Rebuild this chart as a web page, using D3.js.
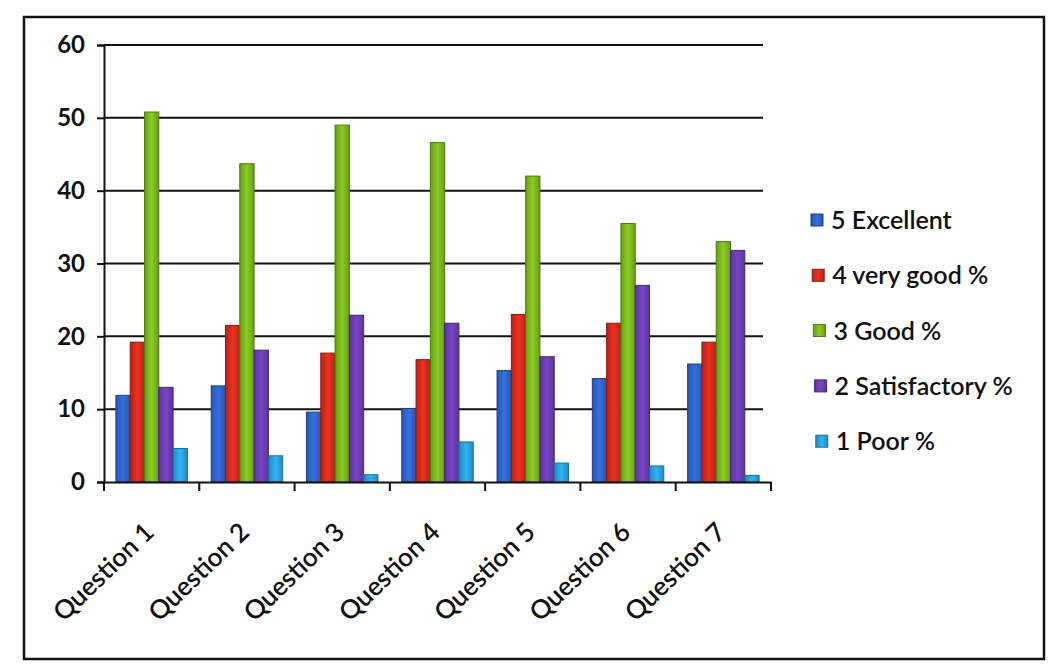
<!DOCTYPE html>
<html><head><meta charset="utf-8">
<script src="https://cdn.jsdelivr.net/npm/d3@7"></script>
<style>
html,body{margin:0;padding:0;background:#fff;}
svg{display:block;font-family:Lato,"Open Sans",sans-serif;}
</style></head>
<body>
<svg id="chart" width="1052" height="664"></svg>
<script>
const categories = ["Question 1","Question 2","Question 3","Question 4","Question 5","Question 6","Question 7"];
const seriesNames = ["5 Excellent","4 very good %","3 Good %","2 Satisfactory %","1 Poor %"];
const excellent    = [11.9, 13.2, 9.6, 10.1, 15.3, 14.2, 16.2];
const veryGood     = [19.2, 21.5, 17.7, 16.8, 23.0, 21.8, 19.2];
const good         = [50.8, 43.7, 49.0, 46.6, 42.0, 35.5, 33.0];
const satisfactory = [13.0, 18.1, 22.9, 21.8, 17.2, 27.0, 31.8];
const poor         = [4.6, 3.6, 1.0, 5.5, 2.6, 2.2, 0.9];
const yTicks = [0,10,20,30,40,50,60];
const colors = ["#2e63c8","#d22a1c","#7ab51d","#6a3db0","#2a9fdc"];
const darks  = ["#1b3f8a","#8e1a10","#4d7a10","#432675","#176f9e"];

(function(){
const allSeries = [excellent, veryGood, good, satisfactory, poor];
const svg = d3.select("#chart");

svg.append("rect").attr("x",24).attr("y",17).attr("width",1020).attr("height",642)
  .attr("fill","none").attr("stroke","#111").attr("stroke-width",2.5);

const mLeft = 104, mRight = 771, mTop = 45, mBottom = 482;
const x0 = d3.scaleBand().domain(categories).range([mLeft, mRight]).paddingInner(0.25).paddingOuter(0.125);
const xTickScale = d3.scaleBand().domain(categories).range([mLeft, mRight]);
const x1 = d3.scaleBand().domain(d3.range(5)).range([0, x0.bandwidth()]);
const y = d3.scaleLinear().domain([0,60]).range([mBottom, mTop]);

const defs = svg.append("defs");
colors.forEach((c,i)=>{
  const g = defs.append("linearGradient").attr("id","g"+i).attr("x1","0").attr("x2","1").attr("y1","0").attr("y2","0");
  g.append("stop").attr("offset","0").attr("stop-color",d3.color(c).darker(0.4));
  g.append("stop").attr("offset","0.5").attr("stop-color",d3.color(c).brighter(0.35));
  g.append("stop").attr("offset","1").attr("stop-color",d3.color(c).darker(0.4));
});

svg.append("g").selectAll("line").data(yTicks.filter(t=>t>0)).join("line")
  .attr("x1",mLeft).attr("x2",mRight-8).attr("y1",d=>y(d)).attr("y2",d=>y(d))
  .attr("stroke","#111").attr("stroke-width",2);

const yAxis = svg.append("g").attr("transform",`translate(${mLeft},0)`)
  .call(d3.axisLeft(y).tickValues(yTicks).tickSize(7).tickPadding(12));
yAxis.select(".domain").attr("stroke","#111").attr("stroke-width",2);
yAxis.selectAll(".tick line").attr("stroke","#111").attr("stroke-width",2);
yAxis.selectAll(".tick text").attr("font-size",24).attr("fill","#111").attr("font-family","Lato, sans-serif").attr("font-weight",700);

const groups = svg.append("g").selectAll("g").data(categories).join("g")
  .attr("transform",d=>`translate(${x0(d)},0)`);
groups.selectAll("rect").data((d,ci)=>allSeries.map((s,si)=>({si, v:s[ci]}))).join("rect")
  .attr("x",d=>x1(d.si)).attr("width",x1.bandwidth())
  .attr("y",d=>y(d.v)).attr("height",d=>y(0)-y(d.v))
  .attr("fill",d=>`url(#g${d.si})`).attr("stroke",d=>darks[d.si]).attr("stroke-width",1);

const xAxis = svg.append("g").attr("transform",`translate(0,${mBottom})`)
  .call(d3.axisBottom(xTickScale).tickSize(0).tickFormat(""));
xAxis.select(".domain").attr("stroke","#111").attr("stroke-width",2);
xAxis.selectAll(".tick").remove();
const bounds = categories.map(c=>xTickScale(c)).concat([mRight]);
svg.append("g").selectAll("line").data(bounds).join("line")
  .attr("x1",d=>d).attr("x2",d=>d).attr("y1",mBottom).attr("y2",mBottom+9)
  .attr("stroke","#111").attr("stroke-width",2);

svg.append("g").selectAll("text").data(categories).join("text")
  .attr("transform",d=>`translate(${x0(d)+x0.bandwidth()/2+4},${mBottom+52}) rotate(-44)`)
  .attr("text-anchor","end").attr("font-size",26).attr("font-weight",600).attr("fill","#111")
  .text(d=>d);

const lg = svg.append("g").attr("transform","translate(811,220)");
const items = lg.selectAll("g").data(seriesNames).join("g")
  .attr("transform",(d,i)=>`translate(${i*1.2},${i*55.3})`);
items.append("rect").attr("x",0).attr("y",-6).attr("width",12).attr("height",12)
  .attr("fill",(d,i)=>`url(#g${i})`).attr("stroke",(d,i)=>darks[i]);
items.append("text").attr("x",20).attr("y",0).attr("dy","0.36em")
  .attr("font-size",25).attr("font-weight",600).attr("fill","#111").text(d=>d);
})();
</script>
</body></html>
